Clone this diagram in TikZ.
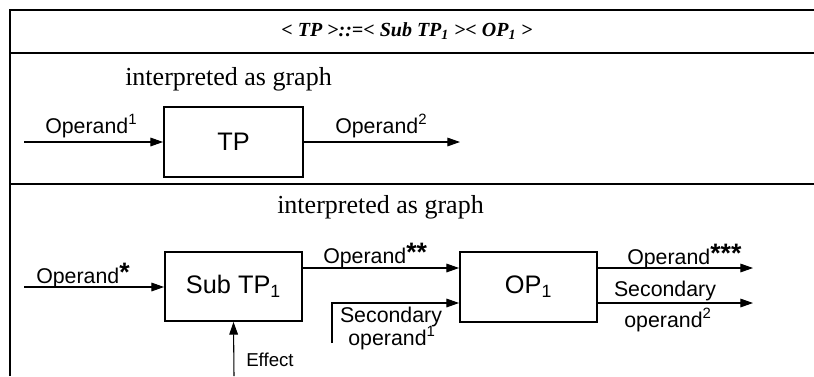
\documentclass[tikz,border=0pt]{standalone}
\usepackage{fontspec}
\setmainfont{Liberation Serif}
\setsansfont{Liberation Sans}
\usetikzlibrary{arrows.meta}
% enlarged bold asterisks used as markers on the operand labels
\newcommand{\opmark}[1]{\raisebox{0.8pt}{\fontsize{20}{20}\selectfont\bfseries #1}}
\begin{document}
\begin{tikzpicture}[x=0.75pt,y=-0.75pt,
  rule/.style={line width=1.5pt},
  block/.style={draw,line width=1.4pt,inner sep=0pt,
    font=\sffamily\fontsize{19}{22}\selectfont},
  flow/.style={line width=0.8pt,-{Triangle[length=9.5pt,width=6.5pt]}},
  lbl/.style={inner sep=0pt,font=\sffamily\fontsize{16}{19}\selectfont},
  small/.style={inner sep=0pt,font=\sffamily\fontsize{14}{17}\selectfont},
  caption/.style={inner sep=0pt,font=\fontsize{19.5}{23}\selectfont}]
\useasboundingbox (0,0) rectangle (814,376);

% table rules
\draw[rule] (10,376) -- (10,10) -- (814,10);
\draw[rule] (10,53) -- (814,53);
\draw[rule] (10,184) -- (814,184);

% grammar rule
\node[inner sep=0pt,font=\bfseries\itshape\fontsize{15}{18}\selectfont] (bnf) at (407,31)
  {< TP >::=< Sub TP\textsubscript{1} >< OP\textsubscript{1} >};

% --- single process ---
\node[caption,anchor=base west] (cap2) at (125,85) {interpreted as graph};
\node[block,minimum width=139*0.75pt,minimum height=70*0.75pt] (tp) at (233.5,142) {TP};
\coordinate (tpin) at (24,142);
\coordinate (tpout) at (460,142);
\draw[flow] (tpin) -- (tp.west);
\draw[flow] (tp.east) -- (tpout);
\node[lbl,anchor=base west] (o1) at (45,133) {Operand\textsuperscript{1}};
\node[lbl,anchor=base west] (o2) at (335,133) {Operand\textsuperscript{2}};

% --- decomposed process ---
\node[caption,anchor=base west] (cap3) at (277,213) {interpreted as graph};
\node[block,minimum width=137*0.75pt,minimum height=69*0.75pt] (sub) at (233.5,286.5) {Sub TP\textsubscript{1}};
\node[block,minimum width=137*0.75pt,minimum height=70*0.75pt] (op) at (528.5,287) {OP\textsubscript{1}};

\coordinate (subin) at (24,287);
\coordinate (upper) at (0,268);
\coordinate (lower) at (0,303);
\coordinate (sec) at (332,343);
\coordinate (out1) at (753,268);
\coordinate (out2) at (753,303);
\coordinate (eff) at (234,376);

\draw[flow] (subin) -- (subin -| sub.west);
\draw[flow] (sub.east |- upper) -- (op.west |- upper);
\draw[flow] (sec) |- (op.west |- lower);
\draw[flow] (op.east |- out1) -- (out1);
\draw[flow] (op.east |- out2) -- (out2);
\draw[flow] (eff) -- (sub.south);

\node[lbl,anchor=base west] (l1) at (36,283) {Operand\opmark{*}};
\node[lbl,anchor=base west] (l2) at (323,263) {Operand\opmark{**}};
\node[lbl,anchor=base] (l3a) at (391,322) {Secondary};
\node[lbl,anchor=base] (l3b) at (392,345) {operand\textsuperscript{1}};
\node[lbl,anchor=base west] (l4) at (627,264) {Operand\opmark{***}};
\node[lbl,anchor=base] (l5a) at (665,296) {Secondary};
\node[lbl,anchor=base] (l5b) at (668,327) {operand\textsuperscript{2}};
\node[small,anchor=base west] (l6) at (246,366) {Effect};
\end{tikzpicture}
\end{document}
